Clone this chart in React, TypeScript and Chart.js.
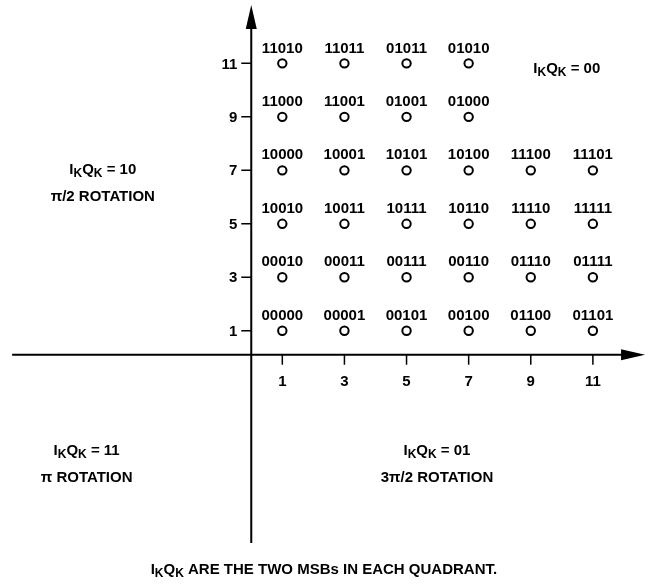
import React, { useEffect, useRef } from "react";
import { Chart, registerables } from "chart.js";

Chart.register(...registerables);

// ---- data ----
const iCoords = [1, 3, 5, 7, 1, 3, 5, 7, 1, 3, 5, 7, 9, 11, 1, 3, 5, 7, 9, 11, 1, 3, 5, 7, 9, 11, 1, 3, 5, 7, 9, 11];
const qCoords = [11, 11, 11, 11, 9, 9, 9, 9, 7, 7, 7, 7, 7, 7, 5, 5, 5, 5, 5, 5, 3, 3, 3, 3, 3, 3, 1, 1, 1, 1, 1, 1];
const symbolCodes = [
  "11010", "11011", "01011", "01010",
  "11000", "11001", "01001", "01000",
  "10000", "10001", "10101", "10100", "11100", "11101",
  "10010", "10011", "10111", "10110", "11110", "11111",
  "00010", "00011", "00111", "00110", "01110", "01111",
  "00000", "00001", "00101", "00100", "01100", "01101",
];
const xTickValues = [1, 3, 5, 7, 9, 11];
const yTickValues = [1, 3, 5, 7, 9, 11];

const quadrantCodes = ["00", "10", "11", "01"];
const quadrantRotations = ["", "π/2 ROTATION", "π ROTATION", "3π/2 ROTATION"];
const footerText = " ARE THE TWO MSBs IN EACH QUADRANT.";

const FONT = '"Liberation Sans", Arial, Helvetica, sans-serif';
const LABEL_SIZE = 15;

// rich text: segments [text, isSubscript]
function drawRich(ctx: CanvasRenderingContext2D, segs: [string, boolean][], cx: number, cy: number, size: number) {
  const main = `bold ${size}px ${FONT}`;
  const sub = `bold ${Math.round(size * 0.78)}px ${FONT}`;
  let total = 0;
  const widths: number[] = [];
  for (const [t, s] of segs) {
    ctx.font = s ? sub : main;
    const w = ctx.measureText(t).width;
    widths.push(w);
    total += w;
  }
  let x = cx - total / 2;
  ctx.textAlign = "left";
  ctx.textBaseline = "alphabetic";
  const base = cy + size * 0.36;
  segs.forEach(([t, s], i) => {
    ctx.font = s ? sub : main;
    ctx.fillText(t, x, s ? base + size * 0.25 : base);
    x += widths[i];
  });
}

const IKQK = (rest: string): [string, boolean][] => [
  ["I", false], ["K", true], ["Q", false], ["K", true], [rest, false],
];

const AXIS_CROSS_Y = 0.1;

const decorPlugin = {
  id: "decor",
  beforeDatasetsDraw(chart: any) {
    const { ctx, scales } = chart;
    const xs = scales.x, ys = scales.y;
    const x0 = xs.getPixelForValue(0);
    const y0 = ys.getPixelForValue(AXIS_CROSS_Y);
    const xLeft = xs.getPixelForValue(-7.7);
    const xTip = xs.getPixelForValue(12.68);
    const yBottom = ys.getPixelForValue(-6.94);
    const yTip = ys.getPixelForValue(13.18);
    const aLen = 24, aHalf = 5.5;
    ctx.save();
    ctx.strokeStyle = "#000";
    ctx.fillStyle = "#000";
    ctx.lineWidth = 2;
    ctx.beginPath();
    ctx.moveTo(xLeft, y0);
    ctx.lineTo(xTip - aLen + 1, y0);
    ctx.moveTo(x0, yBottom);
    ctx.lineTo(x0, yTip + aLen - 1);
    ctx.stroke();
    // arrows
    ctx.beginPath();
    ctx.moveTo(xTip, y0);
    ctx.lineTo(xTip - aLen, y0 - aHalf);
    ctx.lineTo(xTip - aLen, y0 + aHalf);
    ctx.closePath();
    ctx.fill();
    ctx.beginPath();
    ctx.moveTo(x0, yTip);
    ctx.lineTo(x0 - aHalf, yTip + aLen);
    ctx.lineTo(x0 + aHalf, yTip + aLen);
    ctx.closePath();
    ctx.fill();
    // ticks
    ctx.lineWidth = 1.5;
    const tl = 10;
    ctx.beginPath();
    xTickValues.forEach((v) => {
      const px = xs.getPixelForValue(v);
      ctx.moveTo(px, y0);
      ctx.lineTo(px, y0 + tl);
    });
    yTickValues.forEach((v) => {
      const py = ys.getPixelForValue(v);
      ctx.moveTo(x0, py);
      ctx.lineTo(x0 - tl, py);
    });
    ctx.stroke();
    // tick labels
    ctx.font = `bold ${LABEL_SIZE}px ${FONT}`;
    ctx.textAlign = "center";
    ctx.textBaseline = "middle";
    xTickValues.forEach((v) => {
      ctx.fillText(String(v), xs.getPixelForValue(v), y0 + 27);
    });
    ctx.textAlign = "right";
    yTickValues.forEach((v) => {
      ctx.fillText(String(v), x0 - 14, ys.getPixelForValue(v) + 1);
    });
    ctx.restore();
  },
  afterDatasetsDraw(chart: any) {
    const { ctx, scales } = chart;
    const xs = scales.x, ys = scales.y;
    const meta = chart.getDatasetMeta(0);
    ctx.save();
    ctx.fillStyle = "#000";
    ctx.font = `bold ${LABEL_SIZE}px ${FONT}`;
    ctx.textAlign = "center";
    ctx.textBaseline = "middle";
    meta.data.forEach((pt: any, i: number) => {
      ctx.fillText(symbolCodes[i], pt.x, pt.y - 15);
    });
    const P = (vx: number, vy: number) => [xs.getPixelForValue(vx), ys.getPixelForValue(vy)];
    // quadrant annotations
    let p = P(10.16, 10.86);
    drawRich(ctx, IKQK(" = " + quadrantCodes[0]), p[0], p[1], LABEL_SIZE);
    p = P(-4.78, 7.08);
    drawRich(ctx, IKQK(" = " + quadrantCodes[1]), p[0], p[1], LABEL_SIZE);
    p = P(-4.78, 6.07);
    drawRich(ctx, [[quadrantRotations[1], false]], p[0], p[1], LABEL_SIZE);
    p = P(-5.3, -3.43);
    drawRich(ctx, IKQK(" = " + quadrantCodes[2]), p[0], p[1], LABEL_SIZE);
    p = P(-5.3, -4.44);
    drawRich(ctx, [[quadrantRotations[2], false]], p[0], p[1], LABEL_SIZE);
    p = P(5.98, -3.43);
    drawRich(ctx, IKQK(" = " + quadrantCodes[3]), p[0], p[1], LABEL_SIZE);
    p = P(5.98, -4.44);
    drawRich(ctx, [[quadrantRotations[3], false]], p[0], p[1], LABEL_SIZE);
    p = P(2.34, -7.88);
    drawRich(ctx, IKQK(footerText), p[0], p[1], LABEL_SIZE);
    ctx.restore();
  },
};

export default function App() {
  const ref = useRef<HTMLCanvasElement | null>(null);
  useEffect(() => {
    if (!ref.current) return;
    const chart = new Chart(ref.current, {
      type: "scatter",
      data: {
        datasets: [
          {
            data: iCoords.map((v, i) => ({ x: v, y: qCoords[i] })),
            pointRadius: 4.2,
            pointHoverRadius: 4.2,
            borderWidth: 2,
            borderColor: "#000",
            backgroundColor: "#fff",
          },
        ],
      },
      options: {
        responsive: false,
        animation: false,
        events: [],
        layout: { padding: 0, autoPadding: false },
        plugins: { legend: { display: false }, tooltip: { enabled: false } },
        scales: {
          x: { type: "linear", min: -8.09, max: 13.0, display: false },
          y: { type: "linear", min: -8.47, max: 13.37, display: false },
        },
      },
      plugins: [decorPlugin],
    } as any);
    return () => chart.destroy();
  }, []);
  return (
    <div style={{ position: "absolute", left: 0, top: 0, width: 655, height: 584, background: "#fff" }}>
      <canvas ref={ref} width={655} height={584} style={{ width: 655, height: 584 }} />
    </div>
  );
}
